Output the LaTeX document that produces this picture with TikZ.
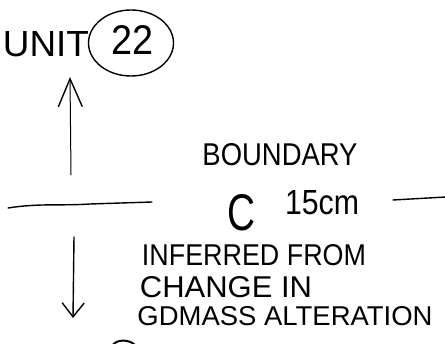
\documentclass[tikz,border=0pt]{standalone}
\usepackage{fontspec}
\setmainfont{Liberation Sans}
\usetikzlibrary{arrows.meta,shapes.geometric}
\begin{document}
\begin{tikzpicture}[x=1pt,y=-1pt,
  ink/.style={draw=black, line width=1.4pt, line cap=round, line join=round},
  thin ink/.style={draw=black, line width=1pt, line cap=round, line join=round},
  lbl/.style={inner sep=0pt, anchor=center, text=black},
  circled/.style={draw=black, line width=1.4pt, ellipse, inner sep=0pt, minimum width=85pt, minimum height=66pt}]
\useasboundingbox (0,0) rectangle (445,344);
\fill[white] (0,0) rectangle (445,344);

% top label
\node[lbl] (unit) at (46,44) {\resizebox{86pt}{25pt}{UNIT}};
\node[circled] (c22) at (131,43) {};
\node[lbl] (n22) at (133,40) {\resizebox{42pt}{29pt}{22}};

% boundary label
\node[lbl] (boundary) at (280,155) {\resizebox{155pt}{22pt}{BOUNDARY}};
\node[lbl] (circa) at (241,213) {\resizebox{28pt}{36pt}{C}};
\node[lbl] (depth) at (322,203) {\resizebox{74pt}{24pt}{15cm}};

% explanation
\node[lbl] (l1) at (254,255) {\resizebox{224pt}{21pt}{INFERRED FROM}};
\node[lbl] (l2) at (226,287) {\resizebox{172pt}{21pt}{CHANGE IN}};
\node[lbl] (l3) at (285,316) {\resizebox{295pt}{19pt}{GDMASS ALTERATION}};

% boundary lines
\coordinate (la) at (8,208);
\coordinate (lb) at (152,202);
\coordinate (ra) at (393,200);
\coordinate (rb) at (446,197);
\draw[ink] (la) .. controls (40,203) and (60,206) .. (90,204) -- (lb);
\draw[ink] (ra) -- (rb);

% arrows
\coordinate (upfoot) at (71,175);
\coordinate (uptip) at (70,77);
\draw[thin ink, -{Straight Barb[length=28pt,width=24pt,line width=1.4pt]}] (upfoot) -- (uptip);
\coordinate (dnfoot) at (74,237);
\coordinate (dntip) at (73,318);
\draw[ink, -{Straight Barb[length=14pt,width=22pt,line width=1.4pt]}] (dnfoot) -- (dntip);

% partial circle at bottom edge
\coordinate (arcA) at (112,346);
\coordinate (arcB) at (135,345);
\draw[ink, line width=2pt] (arcA) .. controls (116,339) and (129,339) .. (arcB);
\end{tikzpicture}
\end{document}
